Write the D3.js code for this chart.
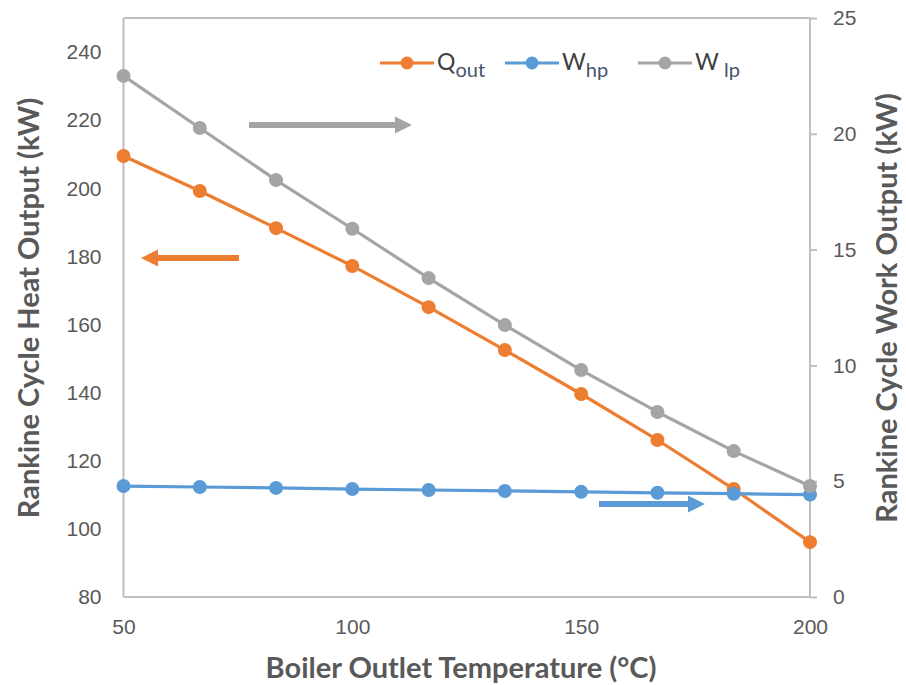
<!DOCTYPE html>
<html>
<head>
<meta charset="utf-8">
<script src="https://cdn.jsdelivr.net/npm/d3@7"></script>
<style>
  html, body { margin: 0; padding: 0; background: #fff; }
  svg { display: block; font-family: Lato, "Open Sans", sans-serif; }
</style>
</head>
<body>
<svg id="chart" width="906" height="685"></svg>
<script>
// Boiler outlet temperature (°C)
const temperature = [50, 66.67, 83.33, 100, 116.67, 133.33, 150, 166.67, 183.33, 200];
// Heat output, left axis (kW)
const qOut = [209.5, 199.2, 188.3, 177.2, 165.1, 152.5, 139.6, 126.1, 111.7, 96.1];
// Work outputs, right axis (kW)
const wHp = [4.79, 4.75, 4.71, 4.66, 4.62, 4.58, 4.54, 4.50, 4.46, 4.42];
const wLp = [22.5, 20.25, 18.0, 15.9, 13.77, 11.74, 9.80, 7.99, 6.30, 4.79];

const xTicks = [50, 100, 150, 200];
const leftTicks = [80, 100, 120, 140, 160, 180, 200, 220, 240];
const rightTicks = [0, 5, 10, 15, 20, 25];

const colors = { q: "#ED7D31", hp: "#5B9BD5", lp: "#A5A5A5" };
const axisColor = "#BFBFBF";
const textColor = "#595959";

const svg = d3.select("#chart");
const plot = { left: 123.5, right: 810, top: 18, bottom: 597 };

const x = d3.scaleLinear().domain([50, 200]).range([plot.left, plot.right]);
const yL = d3.scaleLinear().domain([80, 250]).range([plot.bottom, plot.top]);
const yR = d3.scaleLinear().domain([0, 25]).range([plot.bottom, plot.top]);

// Frame lines: left axis, bottom axis, top edge
svg.append("line").attr("x1", plot.left).attr("x2", plot.left).attr("y1", plot.top).attr("y2", plot.bottom)
  .attr("stroke", axisColor).attr("stroke-width", 2);
svg.append("line").attr("x1", plot.left).attr("x2", plot.right).attr("y1", plot.bottom).attr("y2", plot.bottom)
  .attr("stroke", axisColor).attr("stroke-width", 2);
svg.append("line").attr("x1", plot.left).attr("x2", plot.right).attr("y1", plot.top).attr("y2", plot.top)
  .attr("stroke", axisColor).attr("stroke-width", 2);

const tickFont = "21px";

// Left axis labels
const leftAxis = d3.axisLeft(yL).tickValues(leftTicks).tickSize(0).tickPadding(22);
const gL = svg.append("g").attr("transform", `translate(${plot.left},0)`).call(leftAxis);
gL.select(".domain").remove();
gL.selectAll("text").attr("fill", textColor).style("font-size", tickFont);

// Right axis with outward ticks
const rightAxis = d3.axisRight(yR).tickValues(rightTicks).tickSize(7).tickPadding(16);
const gR = svg.append("g").attr("transform", `translate(${plot.right},0)`).call(rightAxis);
gR.select(".domain").attr("stroke", axisColor).attr("stroke-width", 2).attr("d", `M0,${plot.top}V${plot.bottom}`);
gR.selectAll(".tick line").attr("stroke", axisColor).attr("stroke-width", 2);
gR.selectAll("text").attr("fill", textColor).style("font-size", tickFont);

// Bottom axis labels
const bottomAxis = d3.axisBottom(x).tickValues(xTicks).tickSize(0).tickPadding(22);
const gB = svg.append("g").attr("transform", `translate(0,${plot.bottom})`).call(bottomAxis);
gB.select(".domain").remove();
gB.selectAll("text").attr("fill", textColor).style("font-size", tickFont);

// Axis titles
const titleFont = "29px";
svg.append("text").attr("x", 461).attr("y", 678).attr("text-anchor", "middle")
  .attr("fill", textColor).style("font-size", titleFont).style("font-weight", "bold")
  .text("Boiler Outlet Temperature (°C)");
svg.append("text").attr("transform", "translate(39,308) rotate(-90)").attr("text-anchor", "middle")
  .attr("fill", textColor).style("font-size", titleFont).style("font-weight", "bold")
  .text("Rankine Cycle Heat Output (kW)");
svg.append("text").attr("transform", "translate(897,308) rotate(-90)").attr("text-anchor", "middle")
  .attr("fill", textColor).style("font-size", titleFont).style("font-weight", "bold")
  .text("Rankine Cycle Work Output (kW)");

// Series
const series = [
  { key: "q", values: qOut, y: yL },
  { key: "hp", values: wHp, y: yR },
  { key: "lp", values: wLp, y: yR }
];

series.forEach(s => {
  const pts = temperature.map((t, i) => [t, s.values[i]]);
  const line = d3.line().x(d => x(d[0])).y(d => s.y(d[1]));
  svg.append("path").datum(pts).attr("d", line).attr("fill", "none")
    .attr("stroke", colors[s.key]).attr("stroke-width", 3.2).attr("stroke-linejoin", "round");
  svg.append("g").selectAll("circle").data(pts).join("circle")
    .attr("cx", d => x(d[0])).attr("cy", d => s.y(d[1])).attr("r", 7)
    .attr("fill", colors[s.key]);
});

// Direction arrows pointing to each series' axis
function arrow(x1, x2, y, color) {
  const dir = Math.sign(x2 - x1);
  const headLen = 17, headHalf = 8.5, shaft = 6;
  const xb = x2 - dir * headLen;
  svg.append("line").attr("x1", x1).attr("x2", xb).attr("y1", y).attr("y2", y)
    .attr("stroke", color).attr("stroke-width", shaft);
  svg.append("path").attr("d", `M${x2},${y}L${xb},${y - headHalf}L${xb},${y + headHalf}Z`).attr("fill", color);
}
arrow(249, 412, 125, colors.lp);
arrow(239, 141, 258, colors.q);
arrow(599, 705, 504, colors.hp);

// Legend
const legend = [
  { key: "q", main: "Q", sub: "out", x: 380 },
  { key: "hp", main: "W", sub: "hp", x: 505 },
  { key: "lp", main: "W", sub: " lp", x: 638 }
];
legend.forEach(l => {
  const g = svg.append("g").attr("transform", `translate(${l.x},63)`);
  g.append("line").attr("x1", 0).attr("x2", 54).attr("stroke", colors[l.key]).attr("stroke-width", 3.2);
  g.append("circle").attr("cx", 27).attr("r", 6.5).attr("fill", colors[l.key]);
  const t = g.append("text").attr("x", 57).attr("y", 7).attr("fill", "#404040").style("font-size", "23px")
    .attr("xml:space", "preserve");
  t.append("tspan").text(l.main);
  t.append("tspan").attr("dy", 7).attr("fill", "#44546A").style("font-size", "20px").text(l.sub);
});
</script>
</body>
</html>
